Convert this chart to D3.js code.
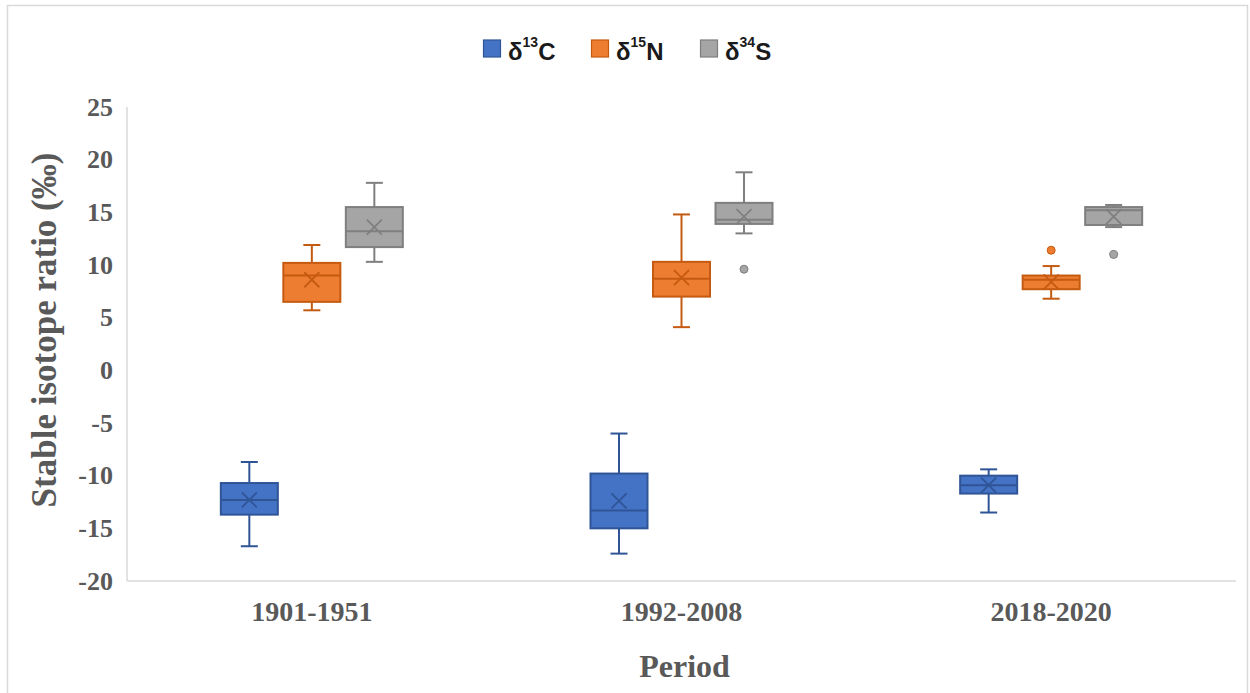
<!DOCTYPE html>
<html>
<head>
<meta charset="utf-8">
<script src="https://cdn.jsdelivr.net/npm/d3@7"></script>
<style>
  html, body { margin: 0; padding: 0; background: #ffffff; }
  svg { display: block; }
</style>
</head>
<body>
<svg id="chart" width="1250" height="693"></svg>
<script>
// ---------- DATA ----------
const periods = ["1901-1951", "1992-2008", "2018-2020"];
const seriesKeys = ["C", "N", "S"];
const seriesMass = ["13", "15", "34"];
const yTicks = [-20, -15, -10, -5, 0, 5, 10, 15, 20, 25];

// five-number summaries per period: [whiskerLow, q1, median, q3, whiskerHigh]
const carbonStats = [
  [-16.7, -13.7, -12.3, -10.7, -8.7],
  [-17.4, -15.0, -13.3, -9.8, -6.0],
  [-13.5, -11.7, -10.9, -10.0, -9.4]
];
const carbonMeans = [-12.3, -12.4, -10.9];
const carbonOutliers = [[], [], []];

const nitrogenStats = [
  [5.7, 6.5, 9.0, 10.2, 11.9],
  [4.1, 7.0, 8.7, 10.3, 14.8],
  [6.8, 7.7, 8.6, 9.0, 9.9]
];
const nitrogenMeans = [8.6, 8.8, 8.4];
const nitrogenOutliers = [[], [], [11.4]];

const sulfurStats = [
  [10.3, 11.7, 13.2, 15.5, 17.8],
  [13.0, 13.9, 14.3, 15.9, 18.8],
  [13.6, 13.8, 15.2, 15.5, 15.7]
];
const sulfurMeans = [13.6, 14.6, 14.6];
const sulfurOutliers = [[], [9.6], [11.0]];

// ---------- STYLE ----------
const fills = { C: "#4472C4", N: "#ED7D31", S: "#A5A5A5" };
const strokes = { C: "#2F5597", N: "#C55A11", S: "#7F7F7F" };
const statsBy = { C: carbonStats, N: nitrogenStats, S: sulfurStats };
const meansBy = { C: carbonMeans, N: nitrogenMeans, S: sulfurMeans };
const outBy = { C: carbonOutliers, N: nitrogenOutliers, S: sulfurOutliers };

const svg = d3.select("#chart");
const plot = { left: 127, right: 1236, top: 107, bottom: 581 };
const serif = "'Liberation Serif', 'Times New Roman', serif";
const labelColor = "#595959";

// outer frame
svg.append("rect").attr("x", 7.5).attr("y", 5.5).attr("width", 1240).attr("height", 720)
  .attr("fill", "#ffffff").attr("stroke", "#d9d9d9").attr("stroke-width", 1.5);

const x = d3.scaleBand().domain(periods).range([plot.left, plot.right]).padding(0);
const xs = d3.scalePoint().domain(seriesKeys).range([-62.5, 62.5]);
const y = d3.scaleLinear().domain([-20, 25]).range([plot.bottom, plot.top]);

// axes lines
svg.append("line").attr("x1", plot.left).attr("x2", plot.left)
  .attr("y1", plot.top).attr("y2", plot.bottom)
  .attr("stroke", "#d9d9d9").attr("stroke-width", 1.5);
svg.append("line").attr("x1", plot.left).attr("x2", plot.right)
  .attr("y1", plot.bottom).attr("y2", plot.bottom)
  .attr("stroke", "#d9d9d9").attr("stroke-width", 1.5);

// y tick labels via axis
const yAxis = d3.axisLeft(y).tickValues(yTicks).tickSize(0).tickPadding(14).tickFormat(d => String(d));
const gy = svg.append("g").attr("transform", `translate(${plot.left},0)`).call(yAxis);
gy.select(".domain").remove();
gy.selectAll("text").attr("font-family", serif).attr("font-weight", "bold")
  .attr("font-size", 26).attr("fill", labelColor);

// x tick labels via axis
const xAxis = d3.axisBottom(x).tickSize(0).tickPadding(20);
const gx = svg.append("g").attr("transform", `translate(0,${plot.bottom})`).call(xAxis);
gx.select(".domain").remove();
gx.selectAll("text").attr("font-family", serif).attr("font-weight", "bold")
  .attr("font-size", 28).attr("fill", labelColor);

// axis titles
svg.append("text").attr("x", (plot.left + plot.right) / 2 + 3).attr("y", 677)
  .attr("text-anchor", "middle").attr("font-family", serif).attr("font-weight", "bold")
  .attr("font-size", 32).attr("fill", labelColor).text("Period");
svg.append("text").attr("transform", "translate(56,330) rotate(-90)")
  .attr("text-anchor", "middle").attr("font-family", serif).attr("font-weight", "bold")
  .attr("font-size", 35).attr("fill", labelColor).text("Stable isotope ratio (‰)");

// boxes
const boxW = 57, capW = 17, mk = 7.5;
seriesKeys.forEach(k => {
  const g = svg.append("g");
  periods.forEach((p, i) => {
    const cx = x(p) + x.bandwidth() / 2 + xs(k);
    const [lo, q1, med, q3, hi] = statsBy[k][i];
    const c = strokes[k];
    g.append("line").attr("x1", cx).attr("x2", cx).attr("y1", y(hi)).attr("y2", y(q3))
      .attr("stroke", c).attr("stroke-width", 2);
    g.append("line").attr("x1", cx).attr("x2", cx).attr("y1", y(q1)).attr("y2", y(lo))
      .attr("stroke", c).attr("stroke-width", 2);
    g.append("line").attr("x1", cx - capW / 2).attr("x2", cx + capW / 2).attr("y1", y(hi)).attr("y2", y(hi))
      .attr("stroke", c).attr("stroke-width", 2);
    g.append("line").attr("x1", cx - capW / 2).attr("x2", cx + capW / 2).attr("y1", y(lo)).attr("y2", y(lo))
      .attr("stroke", c).attr("stroke-width", 2);
    g.append("rect").attr("x", cx - boxW / 2).attr("y", y(q3)).attr("width", boxW)
      .attr("height", y(q1) - y(q3)).attr("fill", fills[k]).attr("stroke", c).attr("stroke-width", 2);
    g.append("line").attr("x1", cx - boxW / 2).attr("x2", cx + boxW / 2).attr("y1", y(med)).attr("y2", y(med))
      .attr("stroke", c).attr("stroke-width", 2);
    const my = y(meansBy[k][i]);
    g.append("path").attr("d", `M${cx - mk},${my - mk}L${cx + mk},${my + mk}M${cx - mk},${my + mk}L${cx + mk},${my - mk}`)
      .attr("stroke", c).attr("stroke-width", 1.8).attr("fill", "none");
    outBy[k][i].forEach(v => {
      g.append("circle").attr("cx", cx).attr("cy", y(v)).attr("r", 4)
        .attr("fill", fills[k]).attr("stroke", c).attr("stroke-width", 1);
    });
  });
});

// legend
const legendX = [483, 591, 700];
const sans = "'Liberation Sans', Arial, sans-serif";
seriesKeys.forEach((k, i) => {
  const lg = svg.append("g").attr("transform", `translate(${legendX[i]},0)`);
  lg.append("rect").attr("x", 0.5).attr("y", 40).attr("width", 17).attr("height", 17)
    .attr("fill", fills[k]).attr("stroke", strokes[k]).attr("stroke-width", 1.2);
  const t = lg.append("text").attr("x", 25).attr("y", 60).attr("font-family", sans)
    .attr("font-weight", "bold").attr("font-size", 24).attr("fill", "#1a1a1a");
  t.append("tspan").text("δ");
  t.append("tspan").attr("dy", -13).attr("font-size", 14).text(seriesMass[i]);
  t.append("tspan").attr("dy", 13).text(k);
});
</script>
</body>
</html>
